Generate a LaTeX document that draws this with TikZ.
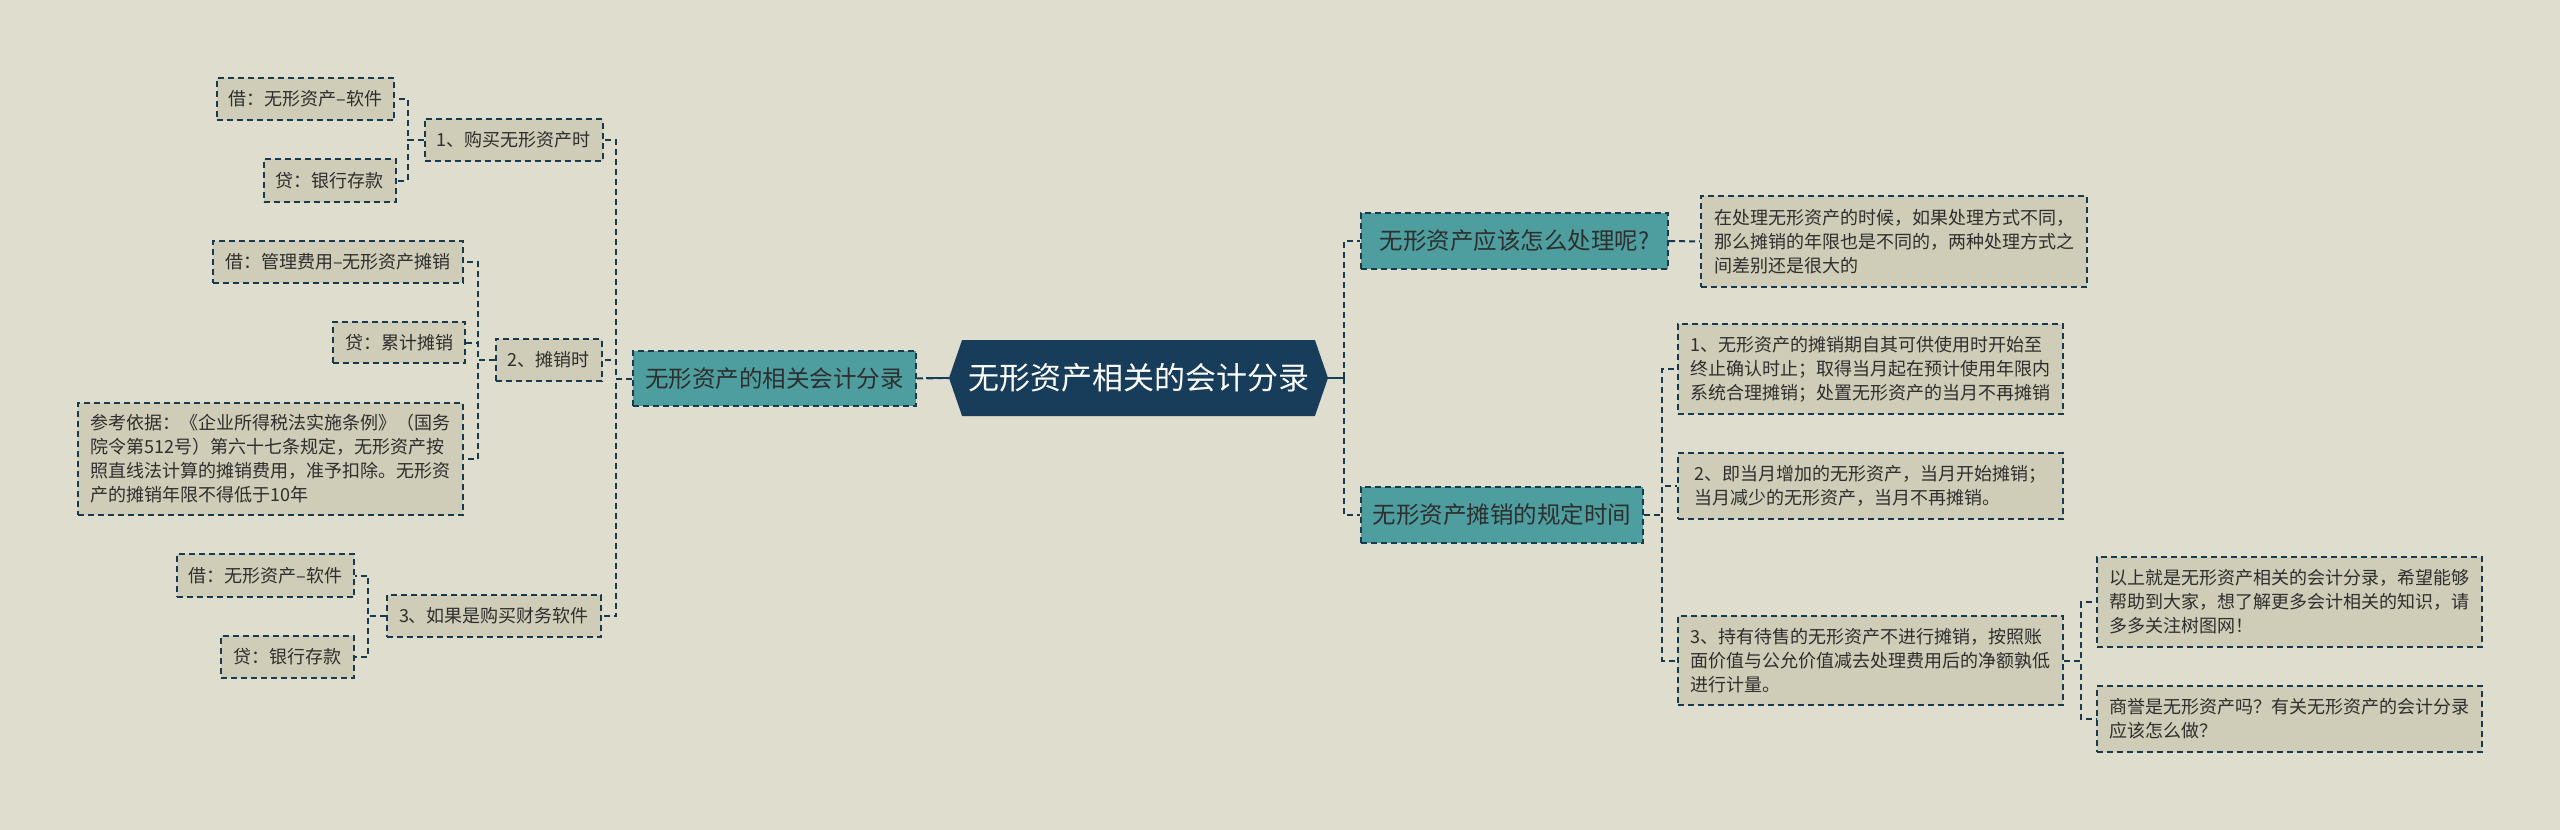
\documentclass[tikz,border=0pt]{standalone}
\usepackage{fontspec}
\setmainfont{Noto Sans CJK SC}
\usetikzlibrary{shapes.symbols}
\definecolor{bgcol}{HTML}{DEDDCE}
\definecolor{leafcol}{HTML}{CFCDB8}
\definecolor{tealcol}{HTML}{4E9E9F}
\definecolor{rootcol}{HTML}{173D5A}
\definecolor{linecol}{HTML}{173A4F}
\definecolor{textcol}{HTML}{2E2E2E}

\begin{document}
\begin{tikzpicture}[x=1pt,y=-1pt,
    box/.style={draw=linecol,line width=2pt,dash pattern=on 6pt off 4pt,text=textcol,inner xsep=12pt,inner ysep=0pt,align=left},
    leaf/.style={box,fill=leafcol,font=\fontsize{18}{24}\selectfont},
    topic/.style={box,fill=tealcol,font=\fontsize{23.5}{28}\selectfont,inner xsep=8pt},
    root/.style={signal,signal to=west and east,signal pointer angle=142,fill=rootcol,text=white,font=\fontsize{31}{36}\selectfont,minimum width=379pt,minimum height=76pt},
    link/.style={draw=linecol,line width=2pt,dash pattern=on 6pt off 4pt},
    rootlink/.style={draw=rootcol,line width=2.5pt}]
    \fill[bgcol] (0,0) rectangle (2560,830);
    \useasboundingbox (0,0) rectangle (2560,830);

    \node[root] (root) at (1138.5,378) {无形资产相关的会计分录};

    \node[topic,minimum width=283pt,minimum height=55pt] (ml) at (774.5,378.5) {无形资产的相关会计分录};
    \node[topic,minimum width=307pt,minimum height=56pt] (mr1) at (1514.5,241) {无形资产应该怎么处理呢?};
    \node[topic,minimum width=282pt,minimum height=56pt] (mr2) at (1502,515) {无形资产摊销的规定时间};

    \node[leaf,minimum width=173pt,minimum height=42pt] (n1) at (513.5,140) {1、购买无形资产时};
    \node[leaf,minimum width=103pt,minimum height=42pt] (n2) at (548.5,360) {2、摊销时};
    \node[leaf,minimum width=212pt,minimum height=42pt] (n3) at (494,616) {3、如果是购买财务软件};

    \node[leaf,minimum width=177pt,minimum height=42pt] (n1a) at (305.5,99) {借：无形资产–软件};
    \node[leaf,minimum width=129pt,minimum height=43pt] (n1b) at (329.5,180.5) {贷：银行存款};
    \node[leaf,minimum width=250pt,minimum height=42pt] (n2a) at (338,262) {借：管理费用–无形资产摊销};
    \node[leaf,minimum width=128pt,minimum height=41pt] (n2b) at (399,342.5) {贷：累计摊销};
    \node[leaf,minimum width=385pt,minimum height=112pt] (n2c) at (270.5,459) {参考依据：《企业所得税法实施条例》（国务\\院令第512号）第六十七条规定，无形资产按\\照直线法计算的摊销费用，准予扣除。无形资\\产的摊销年限不得低于10年};
    \node[leaf,minimum width=177pt,minimum height=43pt] (n3a) at (265.5,575.5) {借：无形资产–软件};
    \node[leaf,minimum width=133pt,minimum height=42pt] (n3b) at (287.5,657) {贷：银行存款};

    \node[leaf,minimum width=386pt,minimum height=91pt] (r1a) at (1894,241.5) {在处理无形资产的时候，如果处理方式不同，\\那么摊销的年限也是不同的，两种处理方式之\\间差别还是很大的};
    \node[leaf,minimum width=385pt,minimum height=90pt] (r2a) at (1870.5,369) {1、无形资产的摊销期自其可供使用时开始至\\终止确认时止；取得当月起在预计使用年限内\\系统合理摊销；处置无形资产的当月不再摊销};
    \node[leaf,minimum width=385pt,minimum height=66pt] (r2b) at (1870.5,486) {2、即当月增加的无形资产，当月开始摊销；\\当月减少的无形资产，当月不再摊销。};
    \node[leaf,minimum width=385pt,minimum height=89pt] (r2c) at (1870.5,660.5) {3、持有待售的无形资产不进行摊销，按照账\\面价值与公允价值减去处理费用后的净额孰低\\进行计量。};
    \node[leaf,minimum width=385pt,minimum height=90pt] (r3a) at (2289.5,602) {以上就是无形资产相关的会计分录，希望能够\\帮助到大家，想了解更多会计相关的知识，请\\多多关注树图网！};
    \node[leaf,minimum width=385pt,minimum height=66pt] (r3b) at (2289.5,719) {商誉是无形资产吗？有关无形资产的会计分录\\应该怎么做？};

    \coordinate (rj) at (1344,378);

    \draw[link] (ml.east) -- (root.west);
    \draw[rootlink] (root.west) -- ++(-23,0);
    \draw[link] (rj) |- (mr1.west);
    \draw[link] (rj) |- (mr2.west);
    \draw[rootlink] (root.east) -- (rj);

    \draw[link] (ml.west) -- ++(-16,0) |- (n1.east);
    \draw[link] (ml.west) -- ++(-16,0) |- (n2.east);
    \draw[link] (ml.west) -- ++(-16,0) |- (n3.east);

    \draw[link] (n1.west) -- ++(-16,0) |- (n1a.east);
    \draw[link] (n1.west) -- ++(-16,0) |- (n1b.east);
    \draw[link] (n2.west) -- ++(-17,0) |- (n2a.east);
    \draw[link] (n2.west) -- ++(-17,0) |- (n2b.east);
    \draw[link] (n2.west) -- ++(-17,0) |- (n2c.east);
    \draw[link] (n3.west) -- ++(-18,0) |- (n3a.east);
    \draw[link] (n3.west) -- ++(-18,0) |- (n3b.east);

    \draw[link] (mr1.east) -- (r1a.west);
    \draw[link] (mr2.east) -- ++(18,0) |- (r2a.west);
    \draw[link] (mr2.east) -- ++(18,0) |- (r2b.west);
    \draw[link] (mr2.east) -- ++(18,0) |- (r2c.west);
    \draw[link] (r2c.east) -- ++(17,0) |- (r3a.west);
    \draw[link] (r2c.east) -- ++(17,0) |- (r3b.west);
\end{tikzpicture}
\end{document}
